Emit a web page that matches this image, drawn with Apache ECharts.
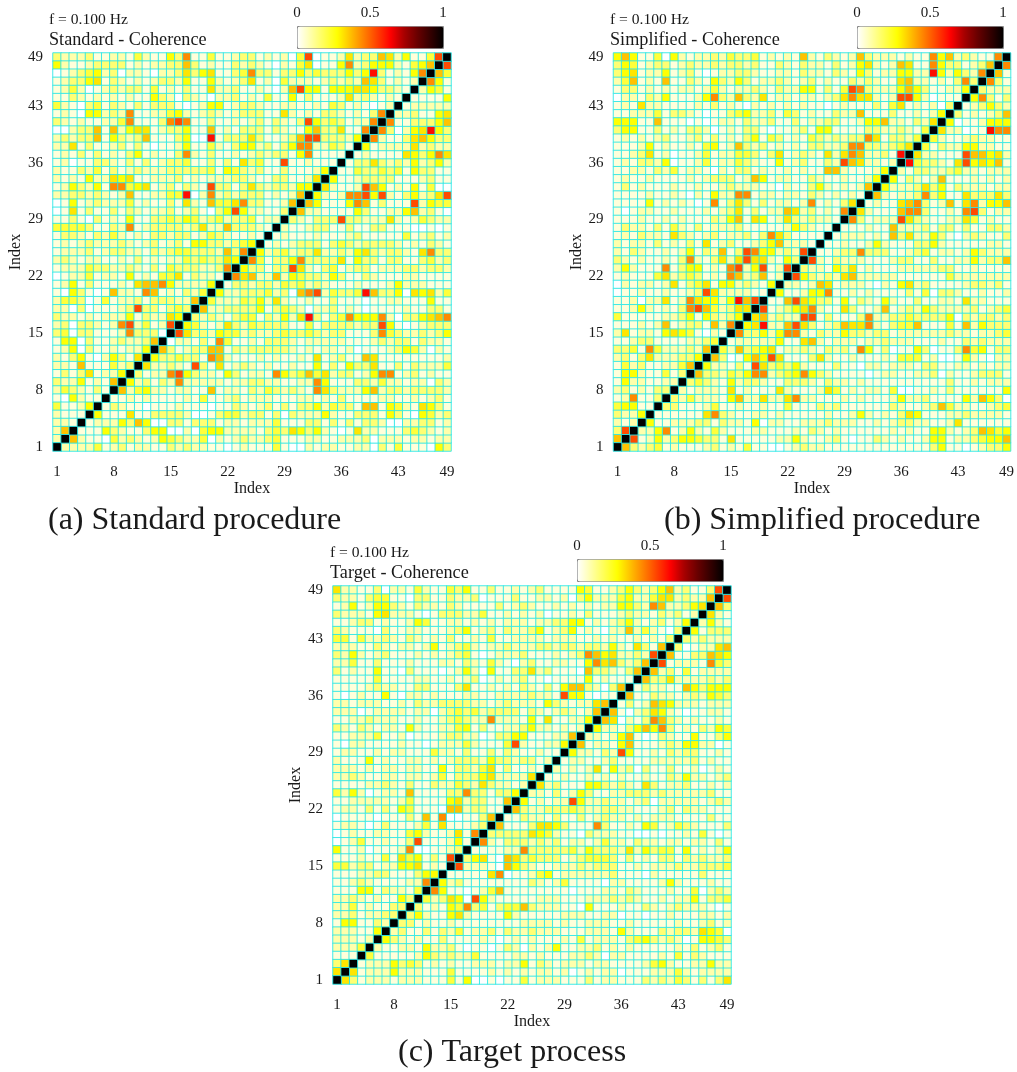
<!DOCTYPE html>
<html>
<head>
<meta charset="utf-8">
<style>html,body{margin:0;padding:0;background:#fff}#c{width:1017px;height:1072px}</style>
<script src="https://cdn.jsdelivr.net/npm/echarts@6/dist/echarts.min.js"></script>
</head>
<body>
<div id="c"></div>
<script>
const indices = Array.from({length: 49}, (_, i) => String(i + 1));
const colorbarTicks = ['0', '0.5', '1'];
const panelNames = ['Standard - Coherence', 'Simplified - Coherence', 'Target - Coherence'];
const captions = ['(a) Standard procedure', '(b) Simplified procedure', '(c) Target process'];
const frequencyLabel = 'f = 0.100 Hz';
const axisName = 'Index';
const codeValues = {0:0, 1:.04, 2:.09, 3:.15, 4:.21, 5:.27, 6:.31, 7:.36, 8:.44, 9:.53, a:.62, b:.72, c:.85};
const hotColors = ['#ffffff','#ffffaa','#ffff55','#ffff00','#ffbf00','#ff8000','#ff4000','#ff0000','#aa0000','#6b0000','#350000','#000000'];

// Estimated coherence, one string per row from index 49 down to 2, columns 1 .. row-1.
const standardRows = [
"3222311 2214211 5381141 1233121 2049011 2623376 251149",
"5211233 3312122 3373121 1323210 2146011 5823555 21457",
"0123452 3022102 2363561 1348331 3353433 3535a31 2158",
"1233561 3212123 3251152 1236120 4222123 2327631 212",
"1242012 3233141 2131162 2311210 2795515 5566533 21",
"1132121 2121153 2032102 2312141 1513111 2623212 1",
"4210341 3213133 3101255 1233211 2211214 3121012",
"1210552 3281122 4521232 1233311 6212133 212138",
"3212112 2481113 8981131 1212313 2139534 31228",
"0023371 7256612 3351171 2133313 2115733 6118",
"2323371 5323711 13500a1 3336311 2379933 325",
"2261311 2313101 1251142 1355231 3588224 31",
"1213131 2135121 1382131 1212323 3158111 1",
"1201133 2131312 3341131 3163411 9112111",
"2113241 3123222 3333341 5432311 311125",
"2121522 6561122 2312122 2332113 31126",
"1253251 8845612 3132193 3136323 3255",
"2233232 1271122 44a0282 3233312 127",
"0151232 2241211 3162174 4683311 27",
"0161311 3132122 3123103 5952211 3",
"1131031 2151133 4354234 2334122",
"4444311 3281233 3323622 733321",
"1332132 4212133 2331243 21121",
"1212322 2321231 2315533 2345",
"1222312 3322132 3443332 738",
"2321221 1213121 2243433 65",
"1222433 2232131 4333223 8",
"0122412 2151214 4613221",
"1251311 1216778 522225",
"1053101 7221871 21324",
"2443014 1223133 3227",
"2203011 1239331 343",
"3221212 2251322 65",
"2303321 2892412 9",
"3403311 1283330",
"1550311 232237",
"1250311 21225",
"2135102 5316",
"2217111 423",
"1313612 25",
"3225121 7",
"2432131",
"105211",
"41125",
"2111",
"221",
"27",
"2"
];
const simplifiedRows = [
"5751140 5212232 4334121 2172132 1273222 1211857 232118",
"3541233 1232232 3323113 2132213 1256212 7611853 31237",
"3561225 1231012 2332112 2132213 2153122 5522a52 5328",
"2471217 1132153 2531223 2123121 1323211 6722121 383",
"1331212 1221242 1223213 2255131 4983222 5753112 25",
"0221325 1112583 2732612 2122123 6866212 9952011 1",
"1216221 1112131 2102121 2121101 2111314 6121203",
"1122241 3321011 3452231 4312113 2271113 112125",
"5551171 1101012 2132231 1312233 1125572 21326",
"3551131 2133201 2133101 1231551 1113322 3214",
"1212123 1123131 2135143 1214323 2338613 324",
"1112512 1121451 2732312 1213322 3883323 46",
"1123612 0112412 2443136 1232162 6872231 a",
"1213325 0112412 2432115 1231132 9762212",
"1122132 4122102 1331211 2121177 211125",
"1211211 1121233 3127512 2113211 21125",
"1312111 2112112 3222110 2113521 2127",
"1111211 2102152 2881221 2213212 121",
"1111512 1210181 3631312 2128121 36",
"1012211 2111212 3613122 7623121 8",
"1112112 1211132 5716512 6323221",
"1322131 4213122 2311111 253211",
"1213221 6321231 2231386 31111",
"2122131 2131612 3112357 2221",
"2132112 1251327 1398552 329",
"3212112 1382136 2696621 53",
"2521118 1355121 8925912 9",
"1211146 2343121 8723712",
"0212212 6134615 523215",
"0112112 1123962 22211",
"1120226 1286552 5a79",
"1125212 1389742 366",
"4111112 2351532 35",
"1112127 1233172 8",
"2612215 6541021",
"1123311 112234",
"3341842 22327",
"2313622 2335",
"1423112 247",
"1552114 13",
"1522112 2",
"2312133",
"128113",
"45511",
"3225",
"212",
"39",
"7"
];
const targetRows = [
"6221130 2214211 4351131 1212311 1154112 3532357 231139",
"3221344 1103311 3223011 1311221 2035222 4522466 23227",
"1251255 3213221 3211113 1232112 1212122 5532872 2356",
"3222156 2221013 3322411 2121201 1213111 2322132 312",
"1123312 1125411 2212121 2221223 3551212 3521231 25",
"3211103 1122111 2351231 3223512 3512102 2724210 3",
"4414223 2132121 3112141 1222212 2211212 1121213",
"2221132 1221251 2342122 3222332 3323325 216317",
"3252123 1112121 2341012 2231112 1238756 22329",
"2241131 1121112 2132142 1023112 2115867 3237",
"3121151 1031110 1252051 1336231 1107332 137",
"1111141 1112211 2123012 1231101 1115121 11",
"1111232 2113311 1361121 2132131 5773203 7",
"1012115 1022121 1122112 2223221 9551011",
"2212221 1213223 3332212 3222153 212267",
"2220122 2212202 3434233 3313212 32127",
"1122322 2112112 3432282 2215161 1225",
"3213212 2152112 2451311 2235221 212",
"1122241 1201112 3322013 3551112 27",
"1022111 1211012 2242111 4921122 5",
"1221121 2211142 2131131 3211211",
"2111512 1122121 2333253 323312",
"2221212 2122115 1332461 31121",
"2232112 2122124 1333562 2226",
"1111223 2131132 2432632 212",
"4252012 2171111 3383313 35",
"1122222 1241111 5623311 7",
"1221313 1541110 7723311",
"0111101 1131718 001137",
"1221013 1112416 11123",
"0121122 1145211 2618",
"0124112 1139111 251",
"5112011 1280011 23",
"1112114 1645131 9",
"4423312 2556121",
"1112233 111355",
"1123211 11228",
"1115513 2214",
"2232121 153",
"2241211 33",
"2231223 3",
"1551132",
"222115",
"22212",
"2224",
"111",
"36",
"6"
];

function cells(rows) {
  const out = [];
  rows.forEach((raw, i) => {
    const r = 49 - i, s = raw.replace(/ /g, '');
    for (let c = 1; c < r; c++) {
      const v = codeValues[s[c - 1] || '0'];
      out.push([c - 1, r - 1, v], [r - 1, c - 1, v]);
    }
  });
  indices.forEach((_, k) => out.push([k, k, 1]));
  return out;
}

const serif = '"Liberation Serif","Times New Roman",serif';
const ink = '#1a1a1a';
const panels = [
  {x: 53,    y: 53,  rows: standardRows,   tx: 49,  fy: 20,  ty: 40,  bar: 297, barTop: 26,  tickY: 13,  cap: [48, 521]},
  {x: 613.5, y: 53,  rows: simplifiedRows, tx: 610, fy: 20,  ty: 40,  bar: 857, barTop: 26,  tickY: 13,  cap: [664, 521]},
  {x: 333,   y: 586, rows: targetRows,     tx: 330, fy: 553, ty: 573, bar: 577, barTop: 559, tickY: 546, cap: [398, 1053]}
];
const size = 398;
const showLabel = (index) => index % 7 === 0 || index === indices.length - 1;

const text = (x, y, t, fontSize, align) => ({type: 'text', x, y, silent: true, style: {
  text: t, fontSize, fontFamily: serif, fill: ink, textAlign: align || 'left', textVerticalAlign: 'middle'}});

const graphic = [];
panels.forEach((p, i) => {
  graphic.push(text(p.tx, p.fy, frequencyLabel, 15.6));
  graphic.push(text(p.tx, p.ty, panelNames[i], 18.2));
  colorbarTicks.forEach((t, k) => graphic.push(text(p.bar + k * 73, p.tickY, t, 15, 'center')));
  graphic.push(text(p.cap[0], p.cap[1], captions[i], 32));
});

const chart = echarts.init(document.getElementById('c'), null, {renderer: 'canvas'});
chart.setOption({
  animation: false,
  backgroundColor: '#fff',
  grid: panels.map(p => ({left: p.x, top: p.y, width: size, height: size})),
  xAxis: panels.map((p, i) => ({
    type: 'category', gridIndex: i, data: indices, name: axisName, nameLocation: 'middle', nameGap: 30,
    nameTextStyle: {fontFamily: serif, fontSize: 16, color: ink},
    axisLine: {show: false}, axisTick: {show: false}, splitLine: {show: false}, splitArea: {show: false},
    axisLabel: {interval: showLabel, margin: 14, fontFamily: serif, fontSize: 15, color: ink, hideOverlap: false}
  })),
  yAxis: panels.map((p, i) => ({
    type: 'category', gridIndex: i, data: indices, name: axisName, nameLocation: 'middle', nameGap: 27,
    nameTextStyle: {fontFamily: serif, fontSize: 16, color: ink},
    axisLine: {show: false}, axisTick: {show: false}, splitLine: {show: false}, splitArea: {show: false},
    axisLabel: {interval: showLabel, margin: 10, fontFamily: serif, fontSize: 15, color: ink, hideOverlap: false}
  })),
  visualMap: panels.map((p, i) => ({
    type: 'continuous', seriesIndex: i, min: 0, max: 1, orient: 'horizontal', left: p.bar, top: p.barTop,
    itemWidth: 22, itemHeight: 146, calculable: false, hoverLink: false, text: null, showLabel: false,
    padding: 0, borderWidth: 1, borderColor: '#888', inRange: {color: hotColors}
  })),
  series: panels.map((p, i) => ({
    type: 'heatmap', xAxisIndex: i, yAxisIndex: i, data: cells(p.rows), progressive: 0, silent: true,
    itemStyle: {borderColor: '#2fe6e6', borderWidth: 0.9}, emphasis: {disabled: true}
  })),
  graphic
});
</script>
</body>
</html>
